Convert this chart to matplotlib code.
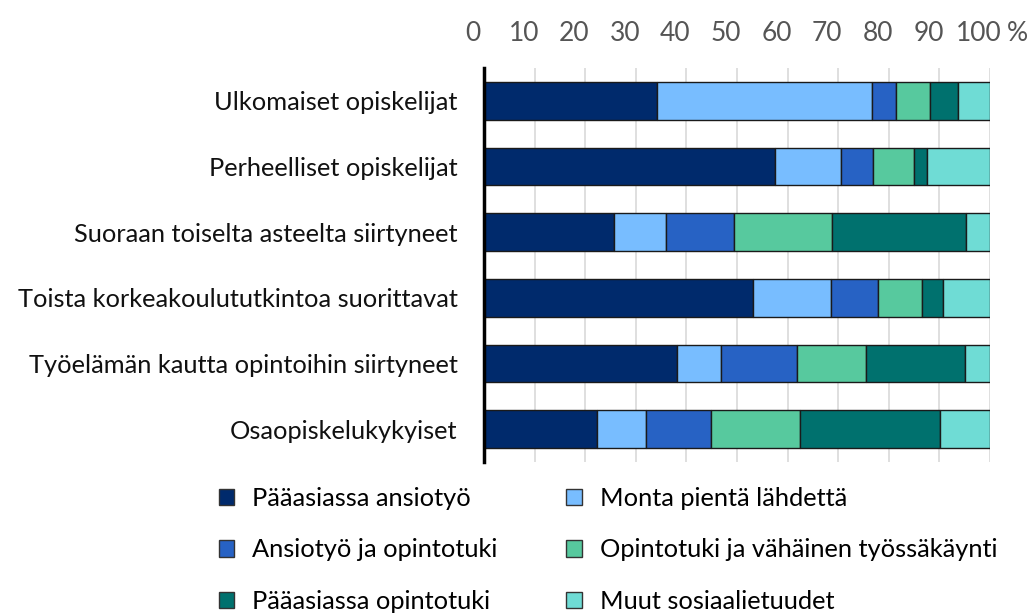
import numpy as np
from matplotlib import pyplot as plt
from matplotlib.patches import Patch
from matplotlib.transforms import ScaledTranslation, blended_transform_factory

plt.rcParams['font.family'] = ['Lato', 'DejaVu Sans']

groups = ["Ulkomaiset opiskelijat", "Perheelliset opiskelijat",
          "Suoraan toiselta asteelta siirtyneet",
          "Toista korkeakoulututkintoa suorittavat",
          "Työelämän kautta opintoihin siirtyneet", "Osaopiskelukykyiset"]

series = ["Pääasiassa ansiotyö", "Monta pientä lähdettä", "Ansiotyö ja opintotuki",
          "Opintotuki ja vähäinen työssäkäynti", "Pääasiassa opintotuki",
          "Muut sosiaalietuudet"]

paaasiassa_ansiotyo = [34.2, 57.5, 25.7, 53.1, 38.2, 22.3]
monta_pienta = [42.4, 13.0, 10.2, 15.5, 8.6, 9.8]
ansiotyo_opintotuki = [4.8, 6.3, 13.5, 9.2, 15.0, 12.7]
opintotuki_tyo = [6.8, 8.2, 19.4, 8.8, 13.7, 17.6]
paaasiassa_opintotuki = [5.5, 2.5, 26.4, 4.2, 19.6, 27.8]
muut = [6.3, 12.5, 4.8, 9.2, 4.9, 9.8]

colors = ["#002a6c", "#78bdff", "#2762c4", "#57c99e", "#00716e", "#6fdcd5"]

values = [paaasiassa_ansiotyo, monta_pienta, ansiotyo_opintotuki,
          opintotuki_tyo, paaasiassa_opintotuki, muut]

fig = plt.figure(figsize=(10.31, 6.13), dpi=100)
ax = fig.add_axes([0.4695, 0.2463, 0.4907, 0.6427])

y = np.arange(len(groups))
left = np.zeros(len(groups))
for vals, col, name in zip(values, colors, series):
    ax.barh(y, vals, left=left, height=0.575, color=col, edgecolor="#1a1a1a",
            linewidth=1.0, label=name, zorder=3)
    left += np.array(vals)

ax.set_xlim(0, 100)
ax.set_ylim(5.5, -0.5)
ax.set_yticks(y)
ax.set_yticklabels(groups, fontsize=18.3, color="#111111")
ax.tick_params(axis='y', length=0, pad=19)

ax.xaxis.tick_top()
ticks = np.arange(0, 101, 10)
ax.set_xticks(ticks)
ax.set_xticklabels([str(t) for t in ticks], fontsize=19, color="#555555")
ax.tick_params(axis='x', length=0, pad=16)
shift = ScaledTranslation(-11 / 100, 0, fig.dpi_scale_trans)
for lab in ax.get_xticklabels():
    lab.set_transform(lab.get_transform() + shift)
trans = blended_transform_factory(ax.transData, ax.transAxes)
ax.text(103.3, 1.0, "%", transform=trans + ScaledTranslation(0, 16 / 72, fig.dpi_scale_trans),
        ha='left', va='bottom', fontsize=19, color="#555555", clip_on=False)

ax.grid(axis='x', color="#d9d9d9", linewidth=1.2, zorder=0)
for s in ["top", "right", "bottom"]:
    ax.spines[s].set_visible(False)
ax.spines["left"].set_linewidth(2.5)
ax.spines["left"].set_color("black")
ax.spines["left"].set_zorder(5)

handles = [Patch(facecolor=c, edgecolor="#333333", linewidth=1.0) for c in colors]
order = [0, 2, 4, 1, 3, 5]
fig.legend([handles[i] for i in order], [series[i] for i in order], ncol=2,
           loc='upper left', bbox_to_anchor=(0.212, 0.206), frameon=False,
           fontsize=18.3, handlelength=0.62, handleheight=0.62, handletextpad=0.7,
           columnspacing=2.7, labelspacing=1.13, borderaxespad=0, borderpad=0)

fig.savefig("out.png", dpi=100)
